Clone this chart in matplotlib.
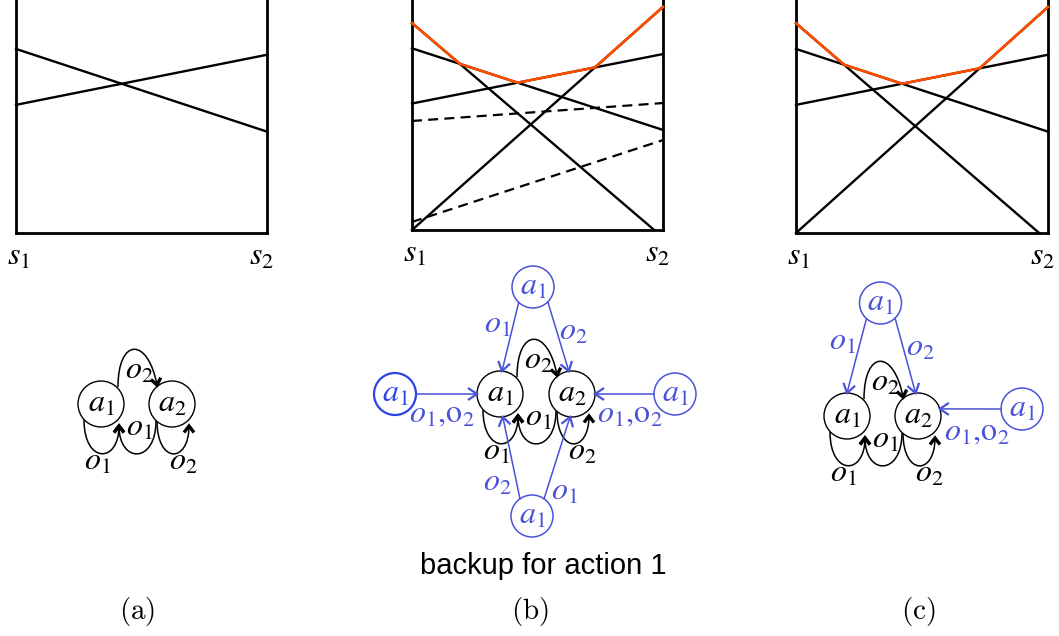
import numpy as np
import matplotlib
matplotlib.use("Agg")
import matplotlib.pyplot as plt
from matplotlib.patches import Circle, PathPatch
from matplotlib.path import Path

plt.rcParams['mathtext.fontset'] = 'stix'
plt.rcParams['font.family'] = ['Liberation Sans', 'DejaVu Sans']

W, H = 1059, 636

# ---------------- data ----------------
state_labels = ['$s_1$', '$s_2$']
# value-function vectors of the current controller (value at s1, value at s2)
alpha_s1 = [0.79, 0.55]
alpha_s2 = [0.435, 0.765]
# new vectors produced by the backup (x start/end, value start/end)
new_x0 = [0.0, 0.0]
new_x1 = [1.0, 0.965]
new_v0 = [0.0, 0.90]
new_v1 = [0.97, 0.0]
# dashed (dominated) candidate vectors in panel (b)
dash_s1 = [0.474, 0.035]
dash_s2 = [0.552, 0.391]
panel_labels = ['(a)', '(b)', '(c)']
caption = 'backup for action 1'
node_names = ['$a_1$', '$a_2$']
new_node_name = '$a_1$'
obs_names = ['$o_1$', '$o_2$']
both_obs = r'$o_1{,}\mathrm{o}_2$'

# ---------------- styles / layout ----------------
BLACK = 'black'
ORANGE = '#ff4d00'
BLUE = '#4a52d8'
BLUE2 = '#2a44e6'
FS = 23

fig = plt.figure(figsize=(W / 100, H / 100), dpi=100)

# panel frames in pixels: (left, right, bottom)
frames = [(16, 267, 233), (412, 663, 230), (796, 1048, 233)]
show_new = [False, True, True]
show_dash = [False, True, False]

for (l, r, b), sn, sd in zip(frames, show_new, show_dash):
    ax = fig.add_axes([l / W, 1 - b / H, (r - l) / W, b / H])
    ax.set_xlim(0, 1)
    ax.set_ylim(0, 1)
    ax.set_xticks([])
    ax.set_yticks([])
    ax.patch.set_alpha(0)
    ax.spines['top'].set_visible(False)
    for s in ['left', 'right', 'bottom']:
        ax.spines[s].set_linewidth(2.0)
    for v0, v1 in zip(alpha_s1, alpha_s2):
        ax.plot([0, 1], [v0, v1], color=BLACK, lw=1.7, clip_on=False)
    if sd:
        for v0, v1 in zip(dash_s1, dash_s2):
            ax.plot([0, 1], [v0, v1], color=BLACK, lw=1.6, ls=(0, (4.5, 2.8)), clip_on=False)
    if sn:
        for x0, x1, v0, v1 in zip(new_x0, new_x1, new_v0, new_v1):
            ax.plot([x0, x1], [v0, v1], color=BLACK, lw=1.7, clip_on=False)
        xs = np.linspace(0, 1, 801)
        curves = [np.interp(xs, [0, 1], [a, c]) for a, c in zip(alpha_s1, alpha_s2)]
        curves += [np.interp(xs, [x0, x1], [v0, v1], left=0, right=0)
                   for x0, x1, v0, v1 in zip(new_x0, new_x1, new_v0, new_v1)]
        env = np.max(curves, axis=0)
        ax.plot(xs, env, color=ORANGE, lw=1.9, clip_on=False, zorder=5)
    ax.text(0.012, -24 / b, state_labels[0], ha='center', va='center', fontsize=FS)
    ax.text(0.98, -24 / b, state_labels[1], ha='center', va='center', fontsize=FS)

# ---------------- diagrams ----------------
g = fig.add_axes([0, 0, 1, 1])
g.set_xlim(0, W)
g.set_ylim(H, 0)
g.axis('off')

R_BLACK = 23
R_BLUE = 21


def chevron(tip, d, length, half_w, color, lw):
    d = np.asarray(d, float)
    d = d / np.hypot(*d)
    n = np.array([-d[1], d[0]])
    tip = np.asarray(tip, float)
    base = tip - d * length
    pts = np.array([base + n * half_w, tip, base - n * half_w])
    g.plot(pts[:, 0], pts[:, 1], color=color, lw=lw, solid_joinstyle='miter',
           solid_capstyle='butt', zorder=6)


def bez(origin, pts, color=BLACK, lw=1.1, head=True):
    pts = np.asarray(pts, float) + np.asarray(origin, float)
    path = Path(pts, [Path.MOVETO, Path.CURVE4, Path.CURVE4, Path.CURVE4])
    g.add_patch(PathPatch(path, fill=False, edgecolor=color, lw=lw, zorder=4))
    if head:
        chevron(pts[3], pts[3] - pts[2], 6.5, 5, color, 2.4)


def node(c, r, label, color=BLACK, lw=1.0):
    g.add_patch(Circle(c, r, fill=False, edgecolor=color, lw=lw, zorder=3))
    g.text(c[0], c[1], label, ha='center', va='center', fontsize=FS, color=color)


def on_circle(c, r, ang):
    a = np.deg2rad(ang)
    return np.array([c[0] + r * np.cos(a), c[1] + r * np.sin(a)])


def edge(c1, r1, a1, c2, r2, a2, color=BLUE, lw=1.1):
    p = on_circle(c1, r1, a1)
    q = on_circle(c2, r2, a2)
    g.plot([p[0], q[0]], [p[1], q[1]], color=color, lw=lw, zorder=4)
    chevron(q, q - p, 9, 6, color, 1.6)


def core(cx, cy, dx=72):
    A1 = np.array([cx, cy], float)
    A2 = A1 + [dx, 0]
    node(A1, R_BLACK, node_names[0])
    node(A2, R_BLACK, node_names[1])
    # o2 : a1 -> a2 (top arc)
    bez(A1, [(17, -17), (17, -67), (dx - 24, -67), (dx - 15, -19)])
    # o1 : a2 -> a1 (bottom middle arc)
    bez(A1, [(dx - 16, 17), (dx - 16, 60), (18, 60), (18, 22)])
    # o1 : a1 self loop
    bez(A1, [(-17, 16), (-17, 60), (18, 60), (18, 22)])
    # o2 : a2 self loop
    bez(A1, [(dx - 15, 17), (dx - 15, 60), (dx + 17, 60), (dx + 17, 22)])
    g.text(cx + 38, cy - 33, obs_names[1], ha='center', va='center', fontsize=FS)
    g.text(cx + 38, cy + 24, obs_names[0], ha='center', va='center', fontsize=FS)
    g.text(cx - 4, cy + 58, obs_names[0], ha='center', va='center', fontsize=FS)
    g.text(cx + 82, cy + 58, obs_names[1], ha='center', va='center', fontsize=FS)
    return A1, A2


# (a)
core(101, 404, 71)

# (b)
B1, B2 = core(500, 394, 72)
top = np.array([533, 287.0])
left = np.array([395, 394.0])
right = np.array([675, 394.0])
bot = np.array([532, 516.0])
node(top, R_BLUE, new_node_name, BLUE, 1.1)
node(left, R_BLUE, new_node_name, BLUE2, 1.6)
node(right, R_BLUE, new_node_name, BLUE, 1.1)
node(bot, R_BLUE, new_node_name, BLUE, 1.1)
edge(top, R_BLUE, 133, B1, R_BLACK, -85)
edge(top, R_BLUE, 45, B2, R_BLACK, -98)
edge(left, R_BLUE, 0, B1, R_BLACK, 180)
edge(right, R_BLUE, 180, B2, R_BLACK, 0)
edge(bot, R_BLUE, -125, B1, R_BLACK, 83)
edge(bot, R_BLUE, -55, B2, R_BLACK, 95)
g.text(497, 325, obs_names[0], ha='center', va='center', fontsize=FS, color=BLUE)
g.text(573, 332, obs_names[1], ha='center', va='center', fontsize=FS, color=BLUE)
g.text(442, 414, both_obs, ha='center', va='center', fontsize=FS, color=BLUE)
g.text(630, 414, both_obs, ha='center', va='center', fontsize=FS, color=BLUE)
g.text(497, 483, obs_names[1], ha='center', va='center', fontsize=FS, color=BLUE)
g.text(564, 492, obs_names[0], ha='center', va='center', fontsize=FS, color=BLUE)

# (c)
C1, C2 = core(847, 416, 71)
ctop = np.array([880.5, 303.0])
cright = np.array([1022, 409.0])
node(ctop, R_BLUE, new_node_name, BLUE, 1.1)
node(cright, R_BLUE, new_node_name, BLUE, 1.1)
edge(ctop, R_BLUE, 132, C1, R_BLACK, -90)
edge(ctop, R_BLUE, 46, C2, R_BLACK, -96)
edge(cright, R_BLUE, 180, C2, R_BLACK, -18)
g.text(842, 342, obs_names[0], ha='center', va='center', fontsize=FS, color=BLUE)
g.text(920, 348, obs_names[1], ha='center', va='center', fontsize=FS, color=BLUE)
g.text(977, 432, both_obs, ha='center', va='center', fontsize=FS, color=BLUE)

# captions
g.text(543, 566, caption, ha='center', va='center', fontsize=21)
for x, lab in zip([137, 530, 918], panel_labels):
    g.text(x, 611, r'$\mathrm{' + lab + '}$', ha='center', va='center', fontsize=21,
           math_fontfamily='cm')

fig.savefig('out.png', dpi=100)
